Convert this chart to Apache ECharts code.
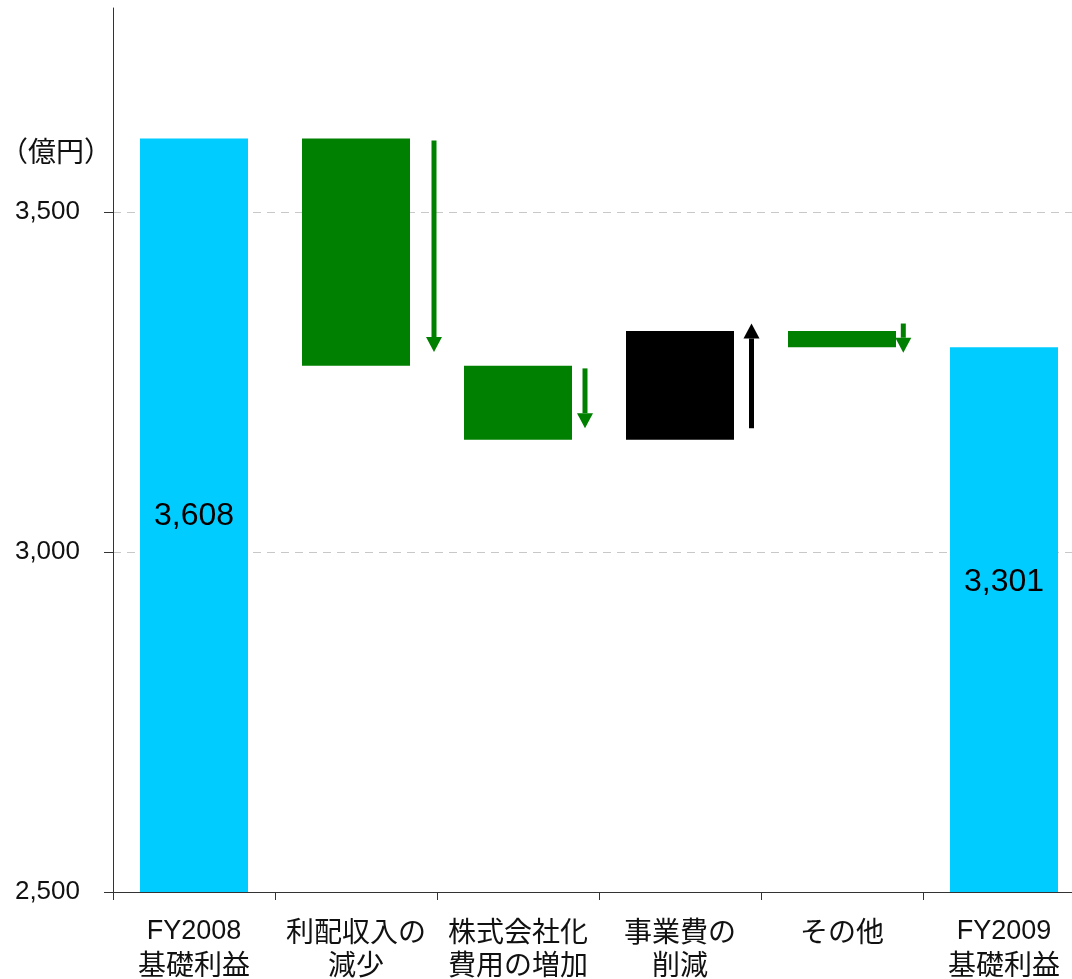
<!DOCTYPE html>
<html>
<head>
<meta charset="utf-8">
<script src="https://cdn.jsdelivr.net/npm/echarts@6/dist/echarts.min.js"></script>
<style>
html,body{margin:0;padding:0;background:#fff;overflow:hidden;width:1072px;height:979px;}
#chart{width:1100px;height:979px;}
</style>
</head>
<body>
<div id="chart"></div>
<script>
// ---- data ----
const categories = ['FY2008\n基礎利益', '利配収入の\n減少', '株式会社化\n費用の増加', '事業費の\n削減', 'その他', 'FY2009\n基礎利益'];
const startTotal = 3608;          // FY2008
const changes = [-334, -109, 160, -24];
const endTotal = 3301;            // FY2009
const yTicks = [2500, 3000, 3500];
const gridValues = [3000, 3500];
const arrowFrom = [3605, 3270, 3182, 3336];
const arrowTo = [3294, 3182, 3336, 3293];
const unitLabel = '（億円）';

// ---- build waterfall ----
const baseData = [0];
const heightData = [startTotal];
const colorData = ['#00CCFF'];
let running = startTotal;
changes.forEach(c => {
  const next = running + c;
  baseData.push(Math.min(running, next));
  heightData.push(Math.abs(c));
  colorData.push(c < 0 ? '#008000' : '#000000');
  running = next;
});
baseData.push(0);
heightData.push(endTotal);
colorData.push('#00CCFF');

const arrowOffsets = [78, 67, 71.5, 61.3];  // px right of bar centre
const arrowData = changes.map((c, i) => [i + 1, arrowFrom[i], arrowTo[i]]);

const FONT = '"Liberation Sans", Arial, "Noto Sans CJK JP", sans-serif';
const chart = echarts.init(document.getElementById('chart'));
chart.setOption({
  animation: false,
  backgroundColor: '#fff',
  grid: { left: 113, top: 8, width: 972, height: 884, containLabel: false, outerBoundsMode: 'none' },
  graphic: [{
    type: 'text', left: 0, top: 137,
    style: { text: unitLabel, font: '28px "Noto Sans CJK JP", sans-serif', fill: '#111' }
  }],
  xAxis: {
    type: 'category',
    data: categories,
    axisLine: { lineStyle: { color: '#333', width: 1 } },
    axisTick: { show: true, interval: 0, length: 8, lineStyle: { color: '#333' } },
    axisLabel: {
      interval: 0, color: '#111', margin: 23, lineHeight: 33,
      formatter: v => v.split('\n').map(s => /^[\x00-\x7F]+$/.test(s) ? '{l|' + s + '}' : '{j|' + s + '}').join('\n'),
      rich: {
        l: { fontSize: 27, fontFamily: FONT, color: '#111', lineHeight: 33 },
        j: { fontSize: 28, fontFamily: '"Noto Sans CJK JP", sans-serif', color: '#111', lineHeight: 33 }
      }
    }
  },
  yAxis: {
    type: 'value',
    min: 2500, max: 3800, interval: 500,
    axisLine: { show: true, lineStyle: { color: '#333', width: 1 } },
    axisTick: { show: true, length: 9, customValues: yTicks, lineStyle: { color: '#333' } },
    axisLabel: {
      customValues: yTicks, color: '#111', fontSize: 26, margin: 33, fontFamily: FONT,
      formatter: v => Number(v).toLocaleString('en-US')
    },
    splitLine: { show: false }
  },
  series: [
    {
      type: 'bar', stack: 'w', barWidth: 108,
      itemStyle: { color: 'rgba(0,0,0,0)' },
      data: baseData,
      silent: true,
      markLine: {
        silent: true, symbol: 'none', z: 0,
        label: { show: false },
        lineStyle: { color: '#c8c8c8', type: [8, 6], width: 1 },
        data: gridValues.map(v => ({ yAxis: v }))
      }
    },
    {
      type: 'bar', stack: 'w', barWidth: 108, z: 3,
      data: heightData.map((h, i) => {
        const item = { value: h, itemStyle: { color: colorData[i] } };
        if (i === 0 || i === heightData.length - 1) {
          item.label = {
            show: true, position: 'inside', color: '#000', fontSize: 32, fontFamily: FONT,
            offset: i === 0 ? [0, 1] : [0, -37],
            formatter: p => Number(p.value).toLocaleString('en-US')
          };
        }
        return item;
      })
    },
    {
      type: 'custom', z: 4,
      data: arrowData,
      renderItem: (params, api) => {
        const cat = api.value(0), from = api.value(1), to = api.value(2);
        const p0 = api.coord([cat, from]);
        const p1 = api.coord([cat, to]);
        const x = p0[0] + arrowOffsets[params.dataIndex];
        const dir = p1[1] > p0[1] ? 1 : -1;
        const color = dir > 0 ? '#008000' : '#000000';
        const headLen = 15, headW = 16, shaftW = 5;
        const baseY = p1[1] - dir * headLen;
        return {
          type: 'group',
          children: [
            { type: 'rect', shape: { x: x - shaftW / 2, y: Math.min(p0[1], baseY), width: shaftW, height: Math.abs(baseY - p0[1]) }, style: { fill: color } },
            { type: 'polygon', shape: { points: [[x - headW / 2, baseY], [x + headW / 2, baseY], [x, p1[1]]] }, style: { fill: color } }
          ]
        };
      }
    }
  ]
});
</script>
</body>
</html>
